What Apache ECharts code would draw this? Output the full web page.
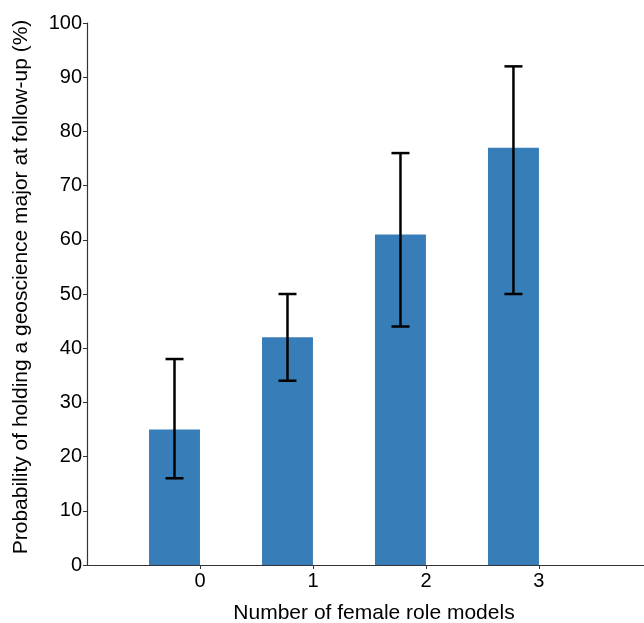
<!DOCTYPE html>
<html>
<head>
<meta charset="utf-8">
<script src="https://cdn.jsdelivr.net/npm/echarts@6/dist/echarts.min.js"></script>
<style>html,body{margin:0;padding:0;background:#fff}#c{width:644px;height:623px}</style>
</head>
<body>
<div id="c"></div>
<script>
const categories = [0, 1, 2, 3];
const probability = [25, 42, 61, 77];
const lowerCI = [16, 34, 44, 50];
const upperCI = [38, 50, 76, 92];
const yTicks = [0, 10, 20, 30, 40, 50, 60, 70, 80, 90, 100];

const FONT = '"Liberation Sans", Arial, Helvetica, sans-serif';
const chart = echarts.init(document.getElementById('c'), null, {renderer: 'canvas'});
const BAR_W = 0.451;

const data = categories.map((c, i) => [c, probability[i], lowerCI[i], upperCI[i]]);

chart.setOption({
  animation: false,
  backgroundColor: '#fff',
  grid: {left: 87, right: 0, top: 23, bottom: 58, containLabel: false, outerBoundsMode: 'none'},
  xAxis: {
    type: 'value', min: -1, max: 3.93, interval: 1,
    name: 'Number of female role models', nameLocation: 'middle', nameGap: 38,
    nameTextStyle: {fontFamily: FONT, fontSize: 21, color: '#000', padding: [0, 0, 0, 17]},
    axisLine: {show: true, onZero: false, lineStyle: {color: '#333', width: 1.2}},
    axisTick: {show: true, length: 4, lineStyle: {color: '#333'}, customValues: categories},
    axisLabel: {fontFamily: FONT, fontSize: 20, color: '#000', margin: 6, customValues: categories},
    splitLine: {show: false}
  },
  yAxis: {
    type: 'value', min: 0, max: 100, interval: 10,
    name: 'Probability of holding a geoscience major at follow-up (%)',
    nameLocation: 'middle', nameRotate: 90, nameGap: 55,
    nameTextStyle: {fontFamily: FONT, fontSize: 21, color: '#000', padding: [0, 0, 0, 14]},
    axisLine: {show: true, onZero: false, lineStyle: {color: '#333', width: 1.2}},
    axisTick: {show: true, length: 4, lineStyle: {color: '#333'}},
    axisLabel: {fontFamily: FONT, fontSize: 20, color: '#000', margin: 5},
    splitLine: {show: false}
  },
  series: [{
    type: 'custom',
    data: data,
    renderItem: function (params, api) {
      const x = api.value(0), v = api.value(1), lo = api.value(2), hi = api.value(3);
      const p0 = api.coord([x - BAR_W, v]);
      const p1 = api.coord([x, 0]);
      const cx = api.coord([x - BAR_W / 2, 0])[0];
      const yLo = api.coord([x, lo])[1], yHi = api.coord([x, hi])[1];
      const cap = 9;
      const ls = {stroke: '#000', lineWidth: 2.5};
      return {
        type: 'group',
        children: [
          {type: 'rect', shape: {x: p0[0], y: p0[1], width: p1[0] - p0[0], height: p1[1] - p0[1]}, style: {fill: '#377eb8'}},
          {type: 'line', shape: {x1: cx, y1: yLo, x2: cx, y2: yHi}, style: ls},
          {type: 'line', shape: {x1: cx - cap, y1: yLo, x2: cx + cap, y2: yLo}, style: ls},
          {type: 'line', shape: {x1: cx - cap, y1: yHi, x2: cx + cap, y2: yHi}, style: ls}
        ]
      };
    }
  }]
});
</script>
</body>
</html>
